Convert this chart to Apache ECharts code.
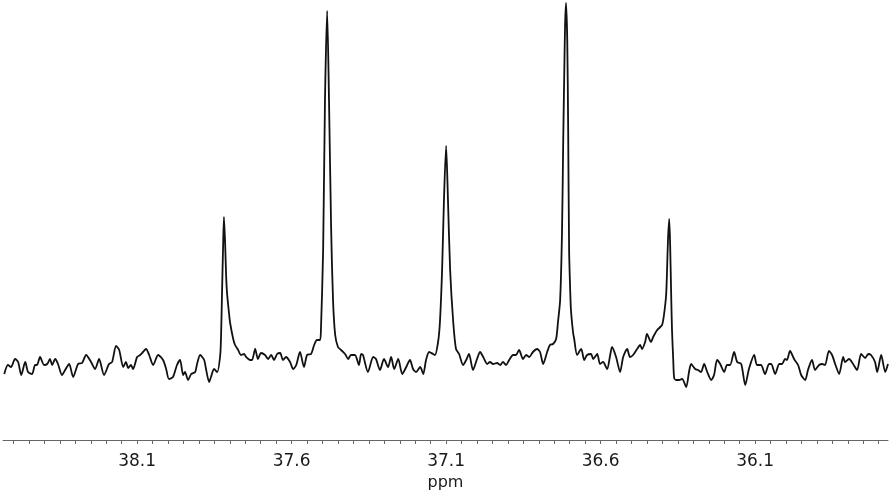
<!DOCTYPE html>
<html>
<head>
<meta charset="utf-8">
<script src="https://cdn.jsdelivr.net/npm/echarts@6/dist/echarts.min.js"></script>
<style>
html,body{margin:0;padding:0;background:#fff;}
#chart{width:894px;height:497px;}
</style>
</head>
<body>
<div id="chart"></div>
<script>
// chemical shift (ppm) of each sampled point of the spectrum trace
const ppm = [
38.530,38.518,38.508,38.495,38.485,38.475,38.462,38.453,38.440,38.430,38.424,38.414,38.401,38.391,38.382,38.375,38.365,38.356,38.343,38.333,
38.320,38.307,38.291,38.278,38.265,38.249,38.236,38.223,38.207,38.191,38.181,38.168,38.158,38.145,38.136,38.129,38.120,38.113,38.100,38.090,
38.081,38.071,38.061,38.048,38.032,38.016,38.006,37.997,37.984,37.971,37.961,37.951,37.945,37.935,37.925,37.912,37.906,37.896,37.883,37.877,
37.867,37.861,37.851,37.841,37.831,37.828,37.825,37.822,37.819,37.815,37.812,37.809,37.802,37.799,37.789,37.783,37.773,37.764,37.754,37.747,
37.734,37.728,37.718,37.709,37.699,37.686,37.676,37.666,37.657,37.647,37.637,37.628,37.618,37.605,37.595,37.585,37.573,37.560,37.550,37.537,
37.527,37.518,37.508,37.505,37.498,37.492,37.485,37.479,37.472,37.466,37.459,37.450,37.440,37.427,37.417,37.408,37.395,37.382,37.375,37.369,
37.353,37.336,37.327,37.314,37.301,37.288,37.278,37.268,37.255,37.242,37.229,37.217,37.207,37.197,37.184,37.174,37.165,37.155,37.142,37.136,
37.126,37.120,37.113,37.107,37.100,37.094,37.087,37.077,37.068,37.058,37.045,37.035,37.026,37.013,37.000,36.990,36.980,36.967,36.958,36.948,
36.935,36.925,36.916,36.906,36.896,36.883,36.874,36.864,36.851,36.841,36.831,36.819,36.806,36.796,36.786,36.773,36.764,36.754,36.744,36.738,
36.731,36.725,36.721,36.718,36.715,36.712,36.708,36.705,36.702,36.699,36.696,36.689,36.686,36.676,36.663,36.653,36.644,36.631,36.624,36.611,
36.602,36.592,36.579,36.569,36.563,36.550,36.537,36.527,36.514,36.505,36.495,36.482,36.472,36.466,36.456,36.450,36.437,36.430,36.417,36.407,
36.401,36.395,36.388,36.385,36.382,36.378,36.375,36.372,36.369,36.365,36.362,36.356,36.346,36.336,36.323,36.314,36.307,36.294,36.285,36.275,
36.265,36.255,36.242,36.233,36.223,36.213,36.200,36.191,36.181,36.168,36.158,36.145,36.132,36.120,36.103,36.094,36.081,36.068,36.055,36.048,
36.035,36.022,36.013,36.003,35.997,35.987,35.974,35.961,35.951,35.938,35.929,35.916,35.906,35.893,35.883,35.874,35.861,35.851,35.841,35.828,
35.815,35.809,35.796,35.783,35.770,35.757,35.744,35.734,35.725,35.712,35.705,35.692,35.679,35.670
];
// signal intensity (arbitrary units, baseline ~ 0) at each point
const intensity = [
-14,-5,-7,1,-2,-15,-2,-12,-14,-5,-5,3,-5,-4,1,-5,1,-4,-15,-10,
-4,-17,-4,-3,5,-2,-9,1,-15,-4,-2,14,10,-7,-2,-8,-5,-9,3,5,
8,11,5,-5,5,0,-9,-19,-17,-5,0,-15,-12,-20,-14,-12,-4,5,0,-9,
-22,-17,-9,-12,5,28,70,110,143,115,85,67,45,37,21,15,10,5,6,3,
0,0,11,1,7,5,1,5,0,6,7,0,3,-2,-9,-5,8,-7,5,6,
15,20,20,31,110,260,349,260,130,60,25,13,10,6,1,5,5,-5,6,5,
-12,3,1,-10,1,-7,3,-9,1,-14,-7,0,-9,-12,-7,-14,0,8,6,5,
18,38,90,160,214,160,90,38,11,6,-5,0,6,-10,1,8,3,-4,-2,-4,
-3,-5,-2,-5,0,5,5,10,1,5,3,8,11,8,-4,8,15,16,21,38,
60,127,220,280,335,357,320,230,110,75,50,27,22,5,11,0,5,6,1,6,
-4,-2,-9,5,13,3,-12,3,11,3,5,11,15,11,18,26,18,23,30,33,
35,45,65,90,120,141,115,70,30,0,-18,-20,-20,-19,-27,-12,-4,-9,-10,-12,
-4,-12,-20,-15,0,-4,-12,-5,-5,8,-2,-4,-25,-9,5,-5,-5,-14,-4,-4,
-14,-4,-4,1,0,9,1,-5,-15,-20,-10,0,-10,-5,-4,-5,9,5,-4,-14,
3,-2,1,-4,-10,6,2,6,5,-2,-12,5,-12,-4
];
// axis tick labels (ppm)
const tickLabels = [38.1, 37.6, 37.1, 36.6, 36.1];
const minorTickStart = 35.70, minorTickEnd = 38.50, minorTickStep = 0.05;

const minorTicks = [];
for (let v = minorTickStart; v <= minorTickEnd + 1e-9; v += minorTickStep) {
  minorTicks.push(Math.round(v * 100) / 100);
}
const seriesData = ppm.map((p, i) => [p, intensity[i]]);

const chart = echarts.init(document.getElementById('chart'), null, {renderer: 'canvas'});
chart.setOption({
  animation: false,
  backgroundColor: '#ffffff',
  grid: {left: 3, right: 6, top: 0, bottom: 57, containLabel: false},
  xAxis: {
    type: 'value',
    inverse: true,
    min: 35.670,
    max: 38.534,
    name: 'ppm',
    nameLocation: 'middle',
    nameGap: 34,
    nameTextStyle: {color: '#1a1a1a', fontSize: 16, fontFamily: 'DejaVu Sans'},
    axisLine: {show: true, onZero: false, lineStyle: {color: '#666', width: 1}},
    axisTick: {show: true, inside: false, length: 4, customValues: minorTicks, lineStyle: {color: '#666', width: 1}},
    axisLabel: {
      show: true, customValues: tickLabels, margin: 13,
      color: '#1a1a1a', fontSize: 17, fontFamily: 'DejaVu Sans',
      formatter: v => v.toFixed(1)
    },
    splitLine: {show: false}
  },
  yAxis: {
    type: 'value',
    min: -80,
    max: 360,
    show: false,
    splitLine: {show: false}
  },
  series: [{
    type: 'line',
    data: seriesData,
    showSymbol: false,
    smooth: 0.25,
    lineStyle: {color: '#111', width: 1.8},
    clip: false
  }]
});
</script>
</body>
</html>
